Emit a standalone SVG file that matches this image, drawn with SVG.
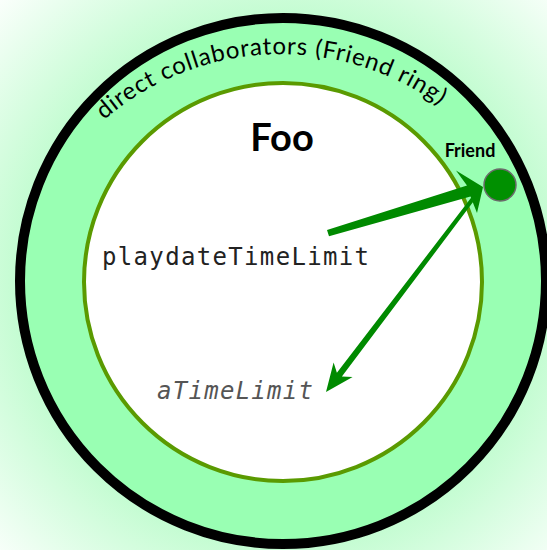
<svg xmlns="http://www.w3.org/2000/svg" width="547" height="550" viewBox="0 0 547 550">
  <defs>
    <radialGradient id="bg" gradientUnits="userSpaceOnUse" cx="283" cy="281" r="410">
      <stop offset="0.62" stop-color="#bffcce"/>
      <stop offset="1" stop-color="#ffffff"/>
    </radialGradient>
    <path id="ringPath" d="M104,120 A271,271 0 0 1 458,120"/>
    <style>
      .label { font-family: Lato, "Open Sans", "DejaVu Sans", sans-serif; fill: #000; }
      .code { font-family: "DejaVu Sans Mono", "Liberation Mono", monospace; font-size: 24px; }
      .arrow { fill: #008a00; stroke: none; }
    </style>
  </defs>
  <rect width="547" height="550" fill="url(#bg)"/>
  <g id="friend-ring">
    <circle cx="283" cy="281" r="263" fill="#99ffb3" stroke="#000" stroke-width="10"/>
    <text class="label" font-size="24"><textPath href="#ringPath" textLength="362" lengthAdjust="spacing">direct collaborators (Friend ring)</textPath></text>
  </g>
  <g id="foo">
    <circle cx="283" cy="282" r="199" fill="#fff" stroke="#5a9a00" stroke-width="4"/>
    <text class="label" x="282" y="151" font-size="38" font-weight="bold" text-anchor="middle">Foo</text>
  </g>
  <g id="playdateTimeLimit">
    <text class="code" x="102" y="265" fill="#222" textLength="267" lengthAdjust="spacing">playdateTimeLimit</text>
  </g>
  <g id="aTimeLimit">
    <text class="code" x="157" y="399" fill="#555" font-style="italic" textLength="156" lengthAdjust="spacing">aTimeLimit</text>
  </g>
  <g id="friend">
    <circle cx="500" cy="185" r="16" fill="#009000" stroke="#6b6b6b" stroke-width="1.5"/>
    <text class="label" x="470" y="157" font-size="18" font-weight="bold" text-anchor="middle">Friend</text>
  </g>
  <g id="connectors">
    <polygon class="arrow" points="327,230 467,185.5 456,170.5 483,187 477,213 470.5,196.5 329,236.2"/>
    <polygon class="arrow" points="476.6,197.2 341.9,376.6 352.6,377.1 326,392 333.6,362.5 336.9,372.7 473.4,194.8"/>
  </g>
</svg>
